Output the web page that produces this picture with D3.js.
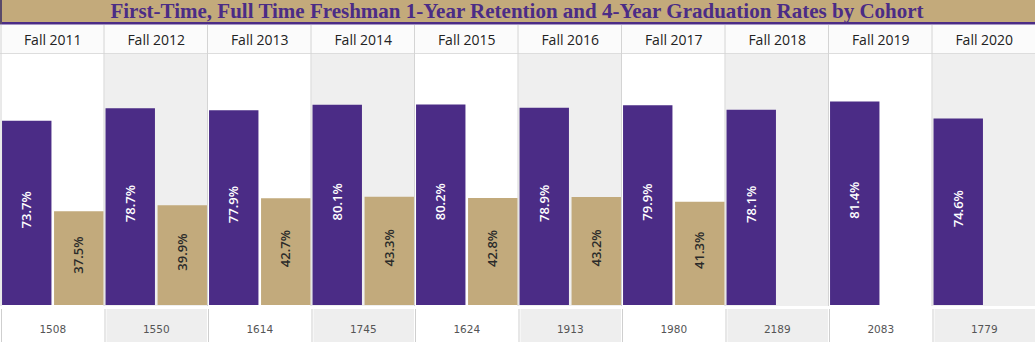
<!DOCTYPE html>
<html>
<head>
<meta charset="utf-8">
<script src="https://cdn.jsdelivr.net/npm/d3@7"></script>
<style>
  body { margin: 0; background: #fff; }
  svg { display: block; }
</style>
</head>
<body>
<div class="chart"></div>
<script>
var w = 1035;
var h = 353;

var title = "First-Time, Full Time Freshman 1-Year Retention and 4-Year Graduation Rates by Cohort";
var cohorts = ["Fall 2011", "Fall 2012", "Fall 2013", "Fall 2014", "Fall 2015",
               "Fall 2016", "Fall 2017", "Fall 2018", "Fall 2019", "Fall 2020"];
var retention = [73.7, 78.7, 77.9, 80.1, 80.2, 78.9, 79.9, 78.1, 81.4, 74.6];
var graduation = [37.5, 39.9, 42.7, 43.3, 42.8, 43.2, 41.3, null, null, null];
var cohortSize = [1508, 1550, 1614, 1745, 1624, 1913, 1980, 2189, 2083, 1779];

var purple = "#4b2c86";
var gold = "#c2aa7c";

var svg = d3.select(".chart")
            .append("svg")
            .attr("width", w)
            .attr("height", h);

// title band
svg.append("rect").attr("x", 0).attr("y", 0).attr("width", w).attr("height", 23).attr("fill", "#c3aa7b");
svg.append("rect").attr("x", 0).attr("y", 22).attr("width", w).attr("height", 2.5).attr("fill", "#4b2c86");
svg.append("rect").attr("x", 0).attr("y", 0).attr("width", 2).attr("height", 24).attr("fill", "#5a4a6a");
svg.append("text")
   .attr("x", 517)
   .attr("y", 18)
   .attr("text-anchor", "middle")
   .style("font-family", "Liberation Serif, serif")
   .style("font-weight", "bold")
   .style("font-size", "21px")
   .style("fill", "#4b2c86")
   .text(title);

var x = d3.scaleBand()
          .domain(cohorts)
          .range([1, 1036]);

var inner = d3.scaleBand()
              .domain(["ret", "grad"])
              .range([0, x.bandwidth()])
              .paddingInner(0.05)
              .paddingOuter(0.02);

var y = d3.scaleLinear()
          .domain([0, 100])
          .range([305, 55]);

var data = cohorts.map(function(c, i) {
    return {cohort: c, i: i, ret: retention[i], grad: graduation[i], n: cohortSize[i]};
});

// column backgrounds
svg.selectAll("rect.colbg")
   .data(data)
   .enter()
   .append("rect")
   .attr("class", "colbg")
   .attr("x", function(d) { return x(d.cohort); })
   .attr("y", 53)
   .attr("width", x.bandwidth())
   .attr("height", 253)
   .attr("fill", function(d) { return d.i % 2 ? "#efefef" : "#ffffff"; });

// header row
svg.append("rect").attr("x", 0).attr("y", 25).attr("width", w).attr("height", 28).attr("fill", "#fbfbfb");
svg.append("line").attr("x1", 0).attr("x2", w).attr("y1", 53.5).attr("y2", 53.5).attr("stroke", "#dddddd");

svg.selectAll("text.head")
   .data(data)
   .enter()
   .append("text")
   .attr("class", "head")
   .attr("x", function(d) { return x(d.cohort) + x.bandwidth() / 2; })
   .attr("y", 45)
   .attr("text-anchor", "middle")
   .style("font-family", "Open Sans, sans-serif")
   .style("font-size", "14px")
   .style("fill", "#222")
   .text(function(d) { return d.cohort; });

// column separators
svg.selectAll("line.sep")
   .data(data.slice(1))
   .enter()
   .append("line")
   .attr("class", "sep")
   .attr("x1", function(d) { return x(d.cohort) - 0.5; })
   .attr("x2", function(d) { return x(d.cohort) - 0.5; })
   .attr("y1", 25)
   .attr("y2", 306)
   .attr("stroke", "#d4d4d4");
svg.append("line").attr("x1", 1).attr("x2", 1).attr("y1", 25).attr("y2", 306).attr("stroke", "#d4d4d4");

// retention bars
svg.selectAll("rect.ret")
   .data(data)
   .enter()
   .append("rect")
   .attr("class", "ret")
   .attr("x", function(d) { return x(d.cohort) + inner("ret"); })
   .attr("y", function(d) { return y(d.ret); })
   .attr("width", inner.bandwidth())
   .attr("height", function(d) { return y(0) - y(d.ret); })
   .attr("fill", purple);

// graduation bars
var gradData = data.filter(function(d) { return d.grad != null; });
svg.selectAll("rect.grad")
   .data(gradData)
   .enter()
   .append("rect")
   .attr("class", "grad")
   .attr("x", function(d) { return x(d.cohort) + inner("grad"); })
   .attr("y", function(d) { return y(d.grad); })
   .attr("width", inner.bandwidth())
   .attr("height", function(d) { return y(0) - y(d.grad); })
   .attr("fill", gold);

// labels
function label(sel, key, color) {
    sel.append("text")
       .attr("transform", function(d) {
           var cx = x(d.cohort) + inner(key) + inner.bandwidth() / 2;
           var cy = (y(d[key]) + y(0)) / 2 - 3;
           return "translate(" + (cx + 4.5) + "," + cy + ") rotate(-90)";
       })
       .attr("text-anchor", "middle")
       .style("font-family", "Open Sans, sans-serif")
       .style("font-size", "13px")
       .style("font-weight", "600")
       .style("fill", color)
       .text(function(d) { return d[key].toFixed(1) + "%"; });
}
label(svg.selectAll("text.rl").data(data).enter(), "ret", "#ffffff");
label(svg.selectAll("text.gl").data(gradData).enter(), "grad", "#2a2a2a");

// footer cells
svg.selectAll("rect.foot")
   .data(data)
   .enter()
   .append("rect")
   .attr("class", "foot")
   .attr("x", function(d) { return x(d.cohort) + 2; })
   .attr("y", 309)
   .attr("width", x.bandwidth() - 3)
   .attr("height", 33)
   .attr("fill", function(d) { return d.i % 2 ? "#eeeeee" : "#ffffff"; });

svg.selectAll("line.fsep")
   .data(data)
   .enter()
   .append("line")
   .attr("class", "fsep")
   .attr("x1", function(d) { return x(d.cohort) + 0.5; })
   .attr("x2", function(d) { return x(d.cohort) + 0.5; })
   .attr("y1", 309)
   .attr("y2", 342)
   .attr("stroke", "#cfcfcf");

svg.selectAll("text.n")
   .data(data)
   .enter()
   .append("text")
   .attr("class", "n")
   .attr("x", function(d) { return x(d.cohort) + x.bandwidth() / 2; })
   .attr("y", 333)
   .attr("text-anchor", "middle")
   .style("font-family", "DejaVu Sans, sans-serif")
   .style("font-size", "10.5px")
   .style("fill", "#555")
   .text(function(d) { return d.n; });
</script>
</body>
</html>
